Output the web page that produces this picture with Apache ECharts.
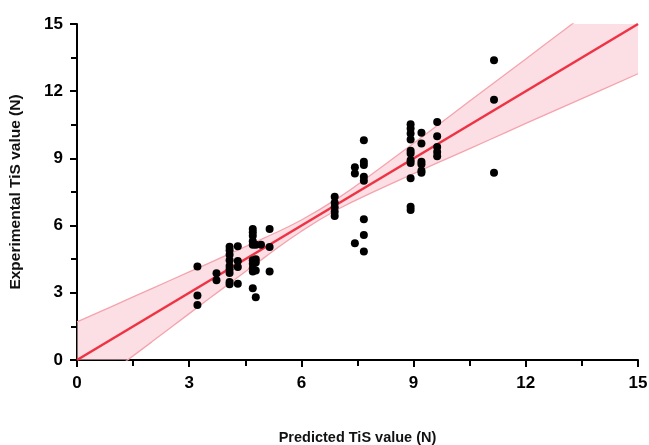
<!DOCTYPE html>
<html>
<head>
<meta charset="utf-8">
<script src="https://cdn.jsdelivr.net/npm/echarts@6/dist/echarts.min.js"></script>
<style>
  html, body { margin: 0; padding: 0; background: #fff; }
  #chart { width: 649px; height: 445px; }
</style>
</head>
<body>
<div id="chart"></div>
<script>
// Measured vs. predicted TiS values (N)
const predicted = [
  3.22, 3.22, 3.22,
  3.73, 3.73,
  4.08, 4.08, 4.08, 4.08, 4.08, 4.08, 4.08, 4.08, 4.08,
  4.30, 4.30, 4.30, 4.30,
  4.70, 4.70, 4.70, 4.70, 4.70, 4.70, 4.70, 4.70, 4.70, 4.70,
  4.78, 4.78, 4.78, 4.78, 4.78,
  4.92,
  5.15, 5.15, 5.15,
  6.89, 6.89, 6.89, 6.89, 6.89,
  7.43, 7.43, 7.43,
  7.67, 7.67, 7.67, 7.67, 7.67, 7.67, 7.67, 7.67,
  8.92, 8.92, 8.92, 8.92, 8.92, 8.92, 8.92, 8.92, 8.92, 8.92, 8.92,
  9.21, 9.21, 9.21, 9.21, 9.21, 9.21,
  9.63, 9.63, 9.63, 9.63, 9.63,
  11.15, 11.15, 11.15
];
const experimental = [
  4.17, 2.88, 2.46,
  3.87, 3.56,
  5.06, 4.90, 4.70, 4.45, 4.20, 4.05, 3.88, 3.48, 3.38,
  5.08, 4.42, 4.15, 3.40,
  5.85, 5.70, 5.55, 5.30, 5.15, 4.45, 4.30, 4.10, 3.95, 3.20,
  5.15, 4.50, 4.35, 4.00, 2.80,
  5.15,
  5.85, 5.05, 3.95,
  7.29, 7.02, 6.82, 6.62, 6.43,
  8.60, 8.33, 5.21,
  9.81, 8.85, 8.70, 8.18, 8.00, 6.28, 5.58, 4.84,
  10.53, 10.33, 10.11, 9.84, 9.34, 9.22, 8.92, 8.80, 8.11, 6.84, 6.70,
  10.14, 9.67, 8.85, 8.74, 8.45, 8.36,
  10.63, 9.99, 9.51, 9.29, 9.10,
  13.38, 11.62, 8.36
];

// Fitted line end points
const fitX = [0, 15];
const fitY = [0, 15];

// Confidence band of the fit
const bandX    = [0, 1, 2, 3, 4, 5, 6, 7, 8, 9, 10, 11, 12, 13, 14, 15];
const bandLow  = [-1.70, -0.44, 0.81, 2.07, 3.32, 4.56, 5.75, 6.75, 7.56, 8.32, 9.07, 9.81, 10.56, 11.30, 12.04, 12.78];
const bandHigh = [1.70, 2.44, 3.19, 3.93, 4.68, 5.44, 6.25, 7.25, 8.44, 9.68, 10.93, 12.19, 13.44, 14.70, 15.96, 17.22];

const axisTicks = [0, 3, 6, 9, 12, 15];

const points = predicted.map((x, i) => [x, experimental[i]]);
const fitLine = fitX.map((x, i) => [x, fitY[i]]);
const lowLine = bandX.map((x, i) => [x, bandLow[i]]);
const highLine = bandX.map((x, i) => [x, bandHigh[i]]);

const labelFont = {
  color: '#000', fontSize: 17, fontWeight: 'bold',
  fontFamily: '"Liberation Sans", Arial, sans-serif'
};

function makeAxis(name, isX) {
  return {
    type: 'value',
    min: 0, max: 15, interval: 3,
    name: name,
    nameLocation: 'middle',
    nameGap: isX ? 70 : 53,
    nameTextStyle: {
      color: '#111', fontSize: isX ? 14.5 : 15.5, fontWeight: 'bold',
      fontFamily: '"Liberation Sans", Arial, sans-serif'
    },
    axisLine: { show: true, onZero: false, lineStyle: { color: '#000', width: 2 } },
    axisTick: { show: true, length: 7, lineStyle: { color: '#000', width: 2 } },
    minorTick: { show: true, splitNumber: 2, length: 6, lineStyle: { color: '#000', width: 2 } },
    axisLabel: Object.assign({
      margin: isX ? 15 : 14,
      formatter: v => axisTicks.includes(v) ? String(v) : ''
    }, labelFont),
    splitLine: { show: false }
  };
}

const chart = echarts.init(document.getElementById('chart'), null, { renderer: 'canvas' });
chart.setOption({
  animation: false,
  backgroundColor: '#fff',
  grid: { left: 77, right: 11, top: 24, bottom: 85, containLabel: false, outerBoundsMode: 'none' },
  xAxis: makeAxis('Predicted TiS value (N)', true),
  yAxis: makeAxis('Experimental TiS value (N)', false),
  series: [
    {
      type: 'custom',
      clip: true,
      silent: true,
      z: 1,
      data: [0],
      renderItem: function (params, api) {
        const pts = [];
        for (let i = 0; i < bandX.length; i++) pts.push(api.coord([bandX[i], bandHigh[i]]));
        for (let i = bandX.length - 1; i >= 0; i--) pts.push(api.coord([bandX[i], bandLow[i]]));
        return {
          type: 'polygon',
          shape: { points: pts, smooth: 0 },
          style: { fill: 'rgba(250, 196, 206, 0.55)', stroke: 'none' }
        };
      }
    },
    {
      type: 'line', data: lowLine, smooth: true, symbol: 'none', z: 2, clip: true,
      lineStyle: { color: '#f5a3ad', width: 1.3 }
    },
    {
      type: 'line', data: highLine, smooth: true, symbol: 'none', z: 2, clip: true,
      lineStyle: { color: '#f5a3ad', width: 1.3 }
    },
    {
      type: 'line', data: fitLine, symbol: 'none', z: 3, clip: true,
      lineStyle: { color: '#ee3345', width: 2.6 }
    },
    {
      type: 'scatter', data: points, symbol: 'circle', symbolSize: 8, z: 4,
      itemStyle: { color: '#000', opacity: 1 }
    }
  ]
});
</script>
</body>
</html>
